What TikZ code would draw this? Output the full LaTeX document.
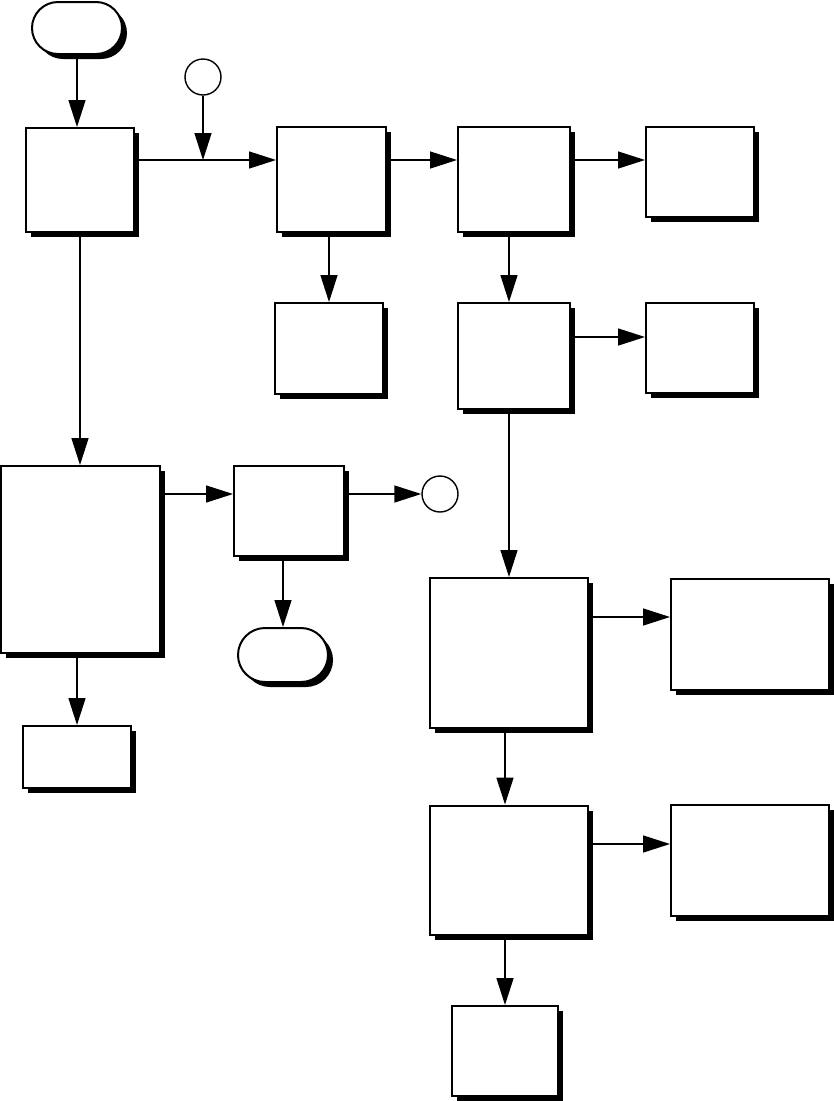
\documentclass[tikz,border=0pt]{standalone}
\usepackage{tikz}
\usetikzlibrary{shapes.misc,shadows,arrows.meta}

\tikzset{
  box/.style={draw, line width=2pt, fill=white, inner sep=0pt,
    drop shadow={shadow xshift=5pt, shadow yshift=-5pt, fill=black, opacity=1}},
  term/.style={box, rounded rectangle},
  conn/.style={draw, circle, line width=1.4pt, fill=white, inner sep=0pt, minimum size=36pt},
  flow/.style={line width=1.5pt, -{Triangle[length=27pt,width=17pt]}}
}

\begin{document}
\begin{tikzpicture}[x=1pt,y=-1pt]
\useasboundingbox (0,0) rectangle (834,1101);
% terminals and connectors
\node[term, minimum width=90pt, minimum height=52pt] (start) at (77,28) {};
\node[term, minimum width=90pt, minimum height=54pt] (stop) at (283,655) {};
\node[conn] (conA) at (203,77) {};
\node[conn] (conB) at (440,494) {};
% boxes
\node[box, minimum width=108pt, minimum height=104pt] (A) at (80,180) {};
\node[box, minimum width=109pt, minimum height=105pt] (B) at (331.5,179.5) {};
\node[box, minimum width=112pt, minimum height=105pt] (C) at (514,179.5) {};
\node[box, minimum width=108pt, minimum height=90pt]  (D) at (700,172) {};
\node[box, minimum width=108pt, minimum height=91pt]  (E) at (329,348.5) {};
\node[box, minimum width=112pt, minimum height=106pt] (F) at (514,356) {};
\node[box, minimum width=108pt, minimum height=90pt]  (G) at (700,348) {};
\node[box, minimum width=159pt, minimum height=187pt] (H) at (80.5,559.5) {};
\node[box, minimum width=110pt, minimum height=90pt]  (I) at (289,511) {};
\node[box, minimum width=108pt, minimum height=62pt]  (J) at (77,757) {};
\node[box, minimum width=158pt, minimum height=150pt] (K) at (509,653) {};
\node[box, minimum width=158pt, minimum height=111pt] (L) at (750,634) {};
\node[box, minimum width=158pt, minimum height=129pt] (M) at (509,870) {};
\node[box, minimum width=158pt, minimum height=111pt] (N) at (750,860) {};
\node[box, minimum width=106pt, minimum height=90pt]  (O) at (505,1051) {};
% levels of the side arrows
\coordinate (j1) at (203,160);
\coordinate (j2) at (600,337);
\coordinate (j3) at (600,617);
\coordinate (j4) at (600,844);
% connectors
\draw[flow] (start.south) -- (start.south |- A.north);
\draw[flow] (A.east |- j1) -- (B.west |- j1);
\draw[flow] (conA.south) -- (j1);
\draw[flow] (B.east |- j1) -- (C.west |- j1);
\draw[flow] (C.east |- j1) -- (D.west |- j1);
\draw[flow] (B.south -| E.north) -- (E.north);
\draw[flow] (C.south -| K.north) -- (F.north -| K.north);
\draw[flow] (F.east |- j2) -- (G.west |- j2);
\draw[flow] (A.south) -- (A.south |- H.north);
\draw[flow] (H.east |- conB) -- (I.west |- conB);
\draw[flow] (I.east |- conB) -- (conB.west);
\draw[flow] (I.south -| stop.north) -- (stop.north);
\draw[flow] (H.south -| J.north) -- (J.north);
\draw[flow] (F.south -| K.north) -- (K.north);
\draw[flow] (K.east |- j3) -- (L.west |- j3);
\draw[flow] (K.south -| O.north) -- (M.north -| O.north);
\draw[flow] (M.east |- j4) -- (N.west |- j4);
\draw[flow] (M.south -| O.north) -- (O.north);
\end{tikzpicture}
\end{document}
